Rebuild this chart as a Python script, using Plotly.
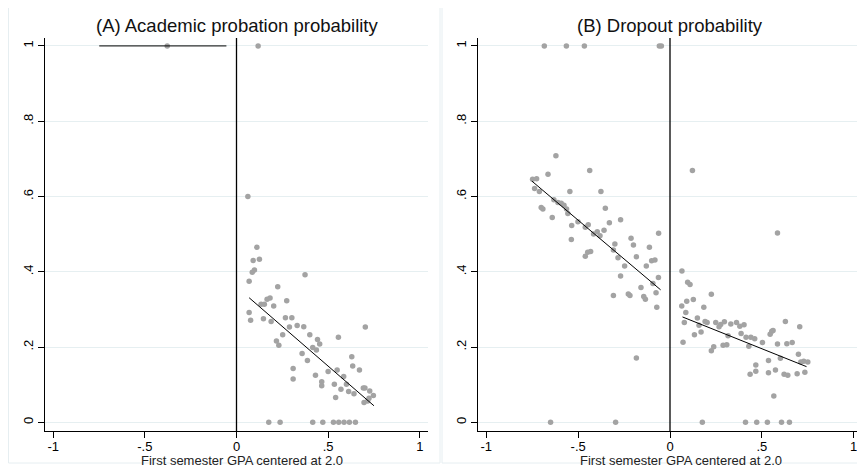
import plotly.graph_objects as go

# ---------------- Data ----------------
# Panel A: academic probation probability
a_left_x = [-0.378]
a_left_y = [1.0]
a_right_x = [0.118, 0.062, 0.111, 0.125, 0.091, 0.098, 0.086, 0.069, 0.374, 0.225, 0.069, 0.077,
             0.134, 0.152, 0.167, 0.183, 0.203, 0.274, 0.147, 0.189, 0.267, 0.302, 0.289, 0.252,
             0.331, 0.367, 0.218, 0.231, 0.400, 0.442, 0.454, 0.416, 0.436, 0.556, 0.703, 0.358,
             0.387, 0.629, 0.634, 0.671, 0.309, 0.309, 0.431, 0.500, 0.549, 0.585, 0.465, 0.465,
             0.534, 0.600, 0.541, 0.570, 0.612, 0.641, 0.692, 0.701, 0.727, 0.747, 0.696, 0.716,
             0.723, 0.176, 0.238, 0.416, 0.471, 0.529, 0.558, 0.587, 0.616, 0.649]
a_right_y = [1.0, 0.600, 0.465, 0.433, 0.430, 0.405, 0.399, 0.375, 0.392, 0.360, 0.292, 0.271,
             0.314, 0.314, 0.327, 0.330, 0.309, 0.323, 0.275, 0.268, 0.278, 0.278, 0.253, 0.233,
             0.257, 0.254, 0.216, 0.205, 0.233, 0.220, 0.208, 0.199, 0.192, 0.226, 0.253, 0.183,
             0.164, 0.174, 0.150, 0.139, 0.143, 0.115, 0.125, 0.135, 0.139, 0.122, 0.108, 0.097,
             0.101, 0.101, 0.066, 0.088, 0.082, 0.076, 0.091, 0.091, 0.083, 0.071, 0.053, 0.057,
             0.064, 0.0, 0.0, 0.0, 0.0, 0.0, 0.0, 0.0, 0.0, 0.0]
a_fit_left_x = [-0.749, -0.055]
a_fit_left_y = [1.0, 1.0]
a_fit_right_x = [0.069, 0.750]
a_fit_right_y = [0.331, 0.044]

# Panel B: dropout probability
b_left_x = [-0.621, -0.437, -0.664, -0.748, -0.726, -0.737, -0.711, -0.545, -0.376, -0.701,
            -0.692, -0.641, -0.632, -0.610, -0.592, -0.577, -0.563, -0.556, -0.352, -0.501,
            -0.535, -0.461, -0.445, -0.330, -0.269, -0.537, -0.416, -0.396, -0.381, -0.359,
            -0.461, -0.448, -0.432, -0.300, -0.308, -0.283, -0.212, -0.199, -0.183, -0.112,
            -0.062, -0.247, -0.269, -0.129, -0.100, -0.082, -0.158, -0.063, -0.093, -0.308,
            -0.227, -0.218, -0.143, -0.134, -0.076, -0.072, -0.183, -0.650, -0.296,
            -0.684, -0.564, -0.466, -0.058, -0.047]
b_left_y = [0.708, 0.669, 0.659, 0.646, 0.647, 0.621, 0.613, 0.613, 0.613, 0.571,
            0.567, 0.544, 0.591, 0.584, 0.582, 0.577, 0.567, 0.555, 0.569, 0.533,
            0.523, 0.518, 0.525, 0.530, 0.538, 0.486, 0.500, 0.506, 0.496, 0.510,
            0.441, 0.452, 0.454, 0.474, 0.458, 0.437, 0.489, 0.471, 0.440, 0.465,
            0.502, 0.415, 0.389, 0.415, 0.429, 0.431, 0.358, 0.385, 0.369, 0.337,
            0.341, 0.337, 0.334, 0.327, 0.344, 0.306, 0.171, 0.0, 0.0,
            1.0, 1.0, 1.0, 1.0, 1.0]
b_right_x = [0.122, 0.585, 0.065, 0.096, 0.109, 0.225, 0.064, 0.091, 0.127, 0.086, 0.184, 0.078,
             0.071, 0.149, 0.191, 0.202, 0.158, 0.133, 0.169, 0.249, 0.267, 0.276, 0.296, 0.225,
             0.238, 0.289, 0.309, 0.316, 0.331, 0.362, 0.387, 0.380, 0.403, 0.414, 0.429, 0.440,
             0.461, 0.503, 0.467, 0.436, 0.467, 0.536, 0.536, 0.545, 0.554, 0.561, 0.574, 0.565,
             0.585, 0.601, 0.628, 0.621, 0.641, 0.636, 0.665, 0.692, 0.699, 0.706, 0.712, 0.728,
             0.750, 0.734, 0.176, 0.411, 0.472, 0.530, 0.607, 0.650]
b_right_y = [0.669, 0.503, 0.402, 0.372, 0.366, 0.340, 0.309, 0.322, 0.326, 0.292, 0.306, 0.265,
             0.213, 0.277, 0.268, 0.265, 0.258, 0.233, 0.240, 0.265, 0.254, 0.260, 0.267, 0.190,
             0.201, 0.205, 0.206, 0.230, 0.261, 0.265, 0.236, 0.255, 0.259, 0.226, 0.202, 0.226,
             0.222, 0.212, 0.152, 0.128, 0.136, 0.164, 0.132, 0.234, 0.242, 0.244, 0.139, 0.070,
             0.208, 0.170, 0.268, 0.128, 0.125, 0.209, 0.212, 0.129, 0.181, 0.254, 0.160, 0.162,
             0.160, 0.133, 0.0, 0.0, 0.0, 0.0, 0.0, 0.0]
b_fit_left_x = [-0.752, -0.051]
b_fit_left_y = [0.641, 0.352]
b_fit_right_x = [0.068, 0.743]
b_fit_right_y = [0.280, 0.148]

x_tick_vals = [-1, -0.5, 0, 0.5, 1]
x_tick_text = ["-1", "-.5", "0", ".5", "1"]
y_tick_vals = [0, 0.2, 0.4, 0.6, 0.8, 1]
y_tick_text = ["0", ".2", ".4", ".6", ".8", "1"]
titles = ["(A) Academic probation probability", "(B) Dropout probability"]
x_title = "First semester GPA centered at 2.0"

# ---------------- Figure ----------------
FONT = "Liberation Sans, Arial, sans-serif"
MARKER = dict(color="#a3a3a3", size=5.5, symbol="circle")
LINE = dict(color="black", width=1)
GRID = "#e6eff1"

fig = go.Figure()

panels = [
    ("x", "y", [a_left_x, a_right_x], [a_left_y, a_right_y],
     [(a_fit_left_x, a_fit_left_y), (a_fit_right_x, a_fit_right_y)]),
    ("x2", "y2", [b_left_x, b_right_x], [b_left_y, b_right_y],
     [(b_fit_left_x, b_fit_left_y), (b_fit_right_x, b_fit_right_y)]),
]
for xa, ya, xs, ys, fits in panels:
    for px, py in zip(xs, ys):
        fig.add_trace(go.Scatter(x=px, y=py, mode="markers", marker=MARKER,
                                 xaxis=xa, yaxis=ya, showlegend=False, hoverinfo="x+y"))
    for fx, fy in fits:
        fig.add_trace(go.Scatter(x=fx, y=fy, mode="lines", line=LINE,
                                 xaxis=xa, yaxis=ya, showlegend=False))

# The page body has an 8px default margin; lay the figure out in page pixels
# and shift by that offset so the picture lands where the reference has it.
PAGE_W, PAGE_H = 865, 469
OFF = 8
W, H = PAGE_W - OFF, PAGE_H - OFF


def fx_(p):
    return (p - OFF) / W


def fy_(p):
    return 1 - (p - OFF) / H


domA = [fx_(45), fx_(428)]
domB = [fx_(478), fx_(862)]
ydom = [fy_(431), fy_(38)]
xr = [-1.045, 1.045]
yr = [-0.023, 1.021]


def xaxis(dom, anchor):
    return dict(domain=dom, range=xr, anchor=anchor, showgrid=False, zeroline=False,
                automargin=False,
                showline=True, linecolor="black", linewidth=1.3,
                ticks="outside", ticklen=6, tickcolor="black", tickwidth=1,
                ticklabelstandoff=-3,
                tickvals=x_tick_vals, ticktext=x_tick_text,
                tickfont=dict(family=FONT, size=13, color="black"))


def yaxis(anchor):
    return dict(domain=ydom, range=yr, anchor=anchor, showgrid=True, gridcolor=GRID, gridwidth=1,
                automargin=False,
                zeroline=False, showline=True, linecolor="black", linewidth=1.3,
                ticks="outside", ticklen=6, tickcolor="black", tickwidth=1,
                tickvals=y_tick_vals, ticktext=y_tick_text, tickangle=-90,
                tickfont=dict(family=FONT, size=13, color="black"))


fig.update_layout(
    width=W, height=H,
    margin=dict(l=0, r=0, t=0, b=0),
    paper_bgcolor="white", plot_bgcolor="white",
    xaxis=xaxis(domA, "y"), yaxis=yaxis("x"),
    xaxis2=xaxis(domB, "y2"), yaxis2=yaxis("x2"),
)

# cutoff lines
for xa, ya in [("x", "y"), ("x2", "y2")]:
    fig.add_shape(type="line", xref=xa, yref=ya + " domain", x0=0, x1=0, y0=0, y1=1,
                  line=dict(color="black", width=1.3))

# panel frames
for x0, x1 in [(fx_(8.5), fx_(440)), (fx_(442), fx_(864.5))]:
    fig.add_shape(type="rect", xref="paper", yref="paper", x0=x0, x1=x1,
                  y0=fy_(463), y1=fy_(3.5), line=dict(color="#e6eef1", width=1),
                  fillcolor="rgba(0,0,0,0)", layer="below")

# panel titles
for t, cx in zip(titles, [237, 670]):
    fig.add_annotation(text=t, x=fx_(cx), y=fy_(26), xref="paper", yref="paper",
                       showarrow=False, font=dict(family=FONT, size=18.5, color="#111"),
                       xanchor="center", yanchor="middle")

# x-axis titles
for cx in [242, 681]:
    fig.add_annotation(text=x_title, x=fx_(cx), y=fy_(460), xref="paper", yref="paper",
                       showarrow=False, font=dict(family=FONT, size=13, color="#222"),
                       xanchor="center", yanchor="middle")

fig.write_html("out.html")
